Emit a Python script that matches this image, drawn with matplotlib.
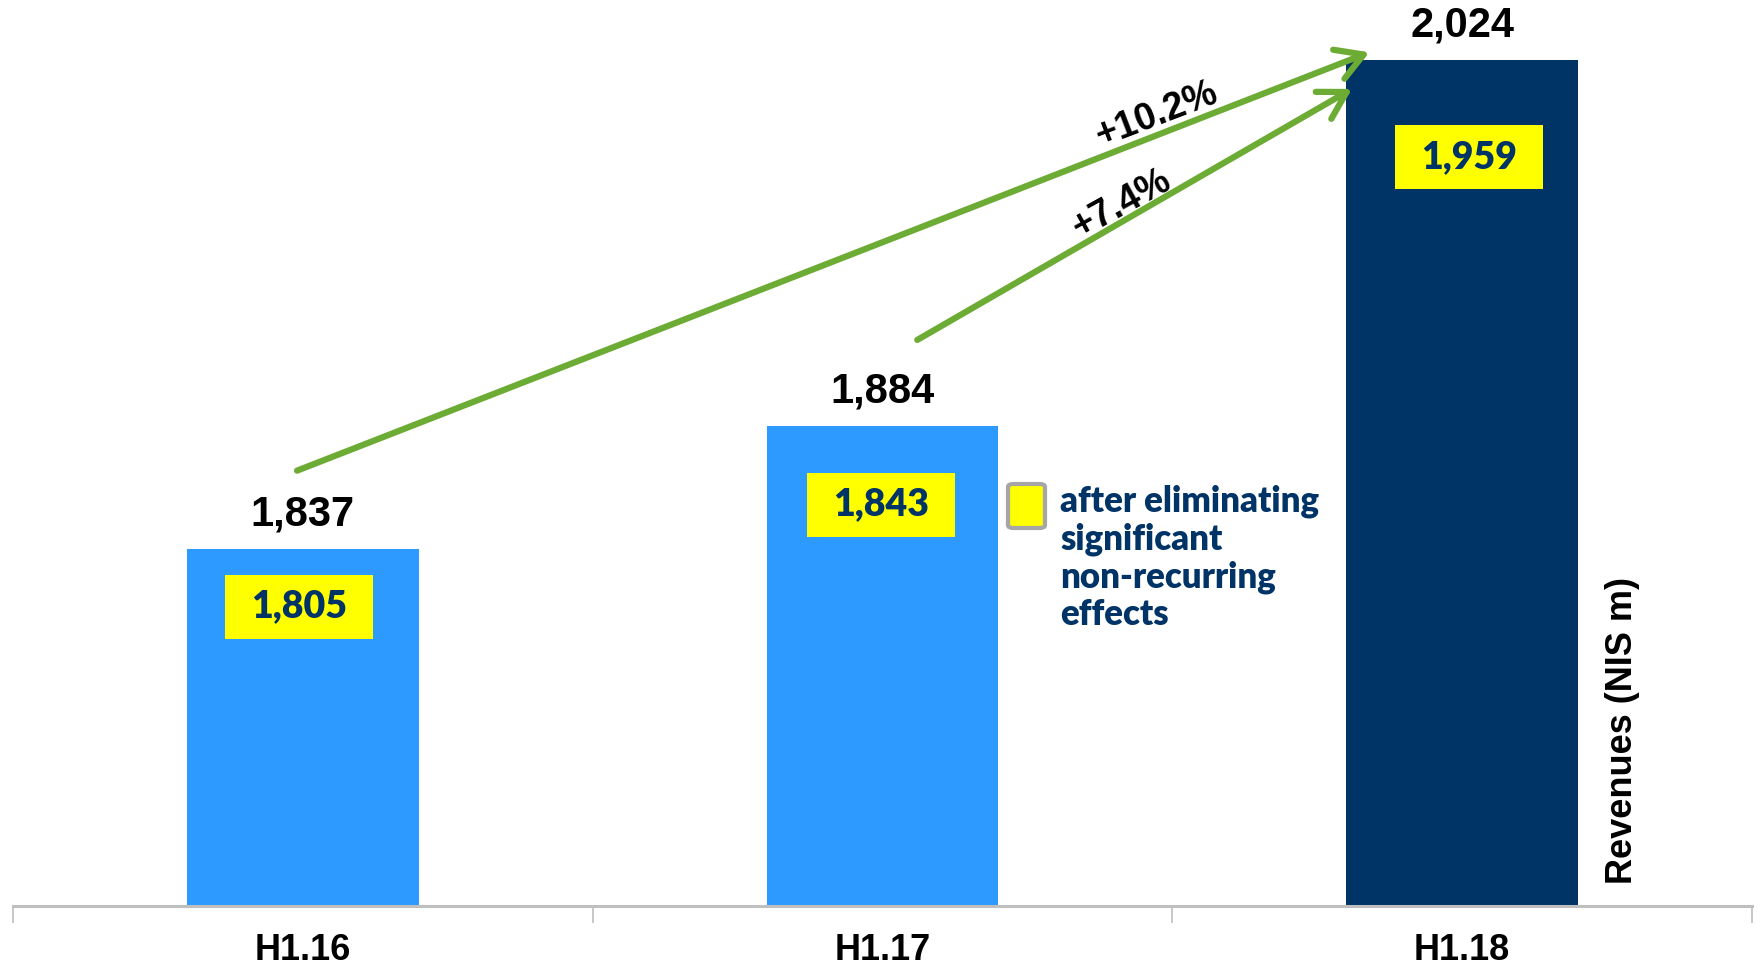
import matplotlib
matplotlib.use("Agg")
import matplotlib.pyplot as plt
from matplotlib.patches import Rectangle, FancyBboxPatch

# Half-year revenues, NIS m
periods = ["H1.16", "H1.17", "H1.18"]
revenues = [1837, 1884, 2024]
adjusted = [1805, 1843, 1959]   # after eliminating significant non-recurring effects

bar_colors = ["#2C9AFF", "#2C9AFF", "#003366"]
navy = "#003366"
green = "#6CAB34"

fig = plt.figure(figsize=(17.58, 9.67), dpi=100)
ax = fig.add_axes([13 / 1758, 61 / 967, 1739 / 1758, 906 / 967])

x = list(range(len(periods)))
ax.bar(x, revenues, width=0.4, color=bar_colors, zorder=2)
ax.set_xlim(-0.5, 2.5)
ax.set_ylim(1700.5, 2047)

# only the bottom axis line, ticks between the categories
for side in ["top", "right", "left"]:
    ax.spines[side].set_visible(False)
ax.spines["bottom"].set_color("#BFBFBF")
ax.spines["bottom"].set_linewidth(2.2)
ax.set_yticks([])
ax.set_xticks([-0.5, 0.5, 1.5, 2.5])
ax.set_xticklabels([])
ax.tick_params(axis="x", length=12, width=1.2, color="#BFBFBF", direction="out")
for i, p in enumerate(periods):
    ax.annotate(p, (i, 1700.5), xytext=(0, -45), textcoords="offset pixels",
                ha="center", va="center", fontsize=26, fontweight="bold",
                family="Liberation Sans", annotation_clip=False)

# value labels above the bars
for i, v in enumerate(revenues):
    ax.annotate(f"{v:,}", (i, v), xytext=(0, 35), textcoords="offset pixels",
                ha="center", va="center", fontsize=30, fontweight="bold",
                family="Liberation Sans")

# yellow boxes with the adjusted figures
box_y = [1815, 1854, 1987]
box_dx = [-0.007, -0.003, 0.012]
box_w, box_h = 148 / 580, 64 / 2.615
for i, v in enumerate(adjusted):
    cx, cy = i + box_dx[i], box_y[i]
    ax.add_patch(Rectangle((cx - box_w / 2, cy - box_h / 2), box_w, box_h,
                           facecolor="#FFFF00", edgecolor="none", zorder=3))
    ax.text(cx, cy, f"{v:,}", ha="center", va="center", fontsize=27,
            fontweight="heavy", family="Lato", color=navy, zorder=4)

# growth arrows
arrows = [((-0.01, 1867), (1.84, 2027)), ((1.06, 1917), (1.81, 2013))]
for start, end in arrows:
    ax.annotate("", xy=end, xytext=start,
                arrowprops=dict(arrowstyle="->,head_length=0.6,head_width=0.35",
                                lw=4.5, color=green, mutation_scale=32,
                                shrinkA=0, shrinkB=0, capstyle="round",
                                joinstyle="round"),
                zorder=5)

growth_long = (revenues[2] / revenues[0] - 1) * 100
growth_short = (revenues[2] / revenues[1] - 1) * 100
ax.text(1.472, 2003, f"+{growth_long:.1f}%", ha="center", va="center",
        rotation=21, rotation_mode="anchor", fontsize=27, fontweight="bold",
        family="Liberation Sans")
ax.text(1.412, 1969, f"+{growth_short:.1f}%", ha="center", va="center",
        rotation=29, rotation_mode="anchor", fontsize=27, fontweight="bold",
        family="Liberation Sans")

# legend for the yellow boxes
fig.patches.append(FancyBboxPatch((1008 / 1758, 1 - 528 / 967), 37 / 1758, 44 / 967,
                                  boxstyle="round,pad=0,rounding_size=0.003",
                                  facecolor="#FFFF00", edgecolor="#A6A6A6",
                                  linewidth=3, transform=fig.transFigure))
legend_lines = ["after eliminating", "significant", "non-recurring", "effects"]
for k, line in enumerate(legend_lines):
    fig.text(1060 / 1758, 1 - (512 + 37.7 * k) / 967, line, ha="left",
             va="baseline", fontsize=25, fontweight="heavy", family="Lato",
             color=navy)

fig.text(1623 / 1758, 1 - 731 / 967, "Revenues (NIS m)", rotation=90,
         ha="center", va="center", fontsize=26, fontweight="bold",
         family="Liberation Sans")

fig.savefig("out.png", dpi=100)
